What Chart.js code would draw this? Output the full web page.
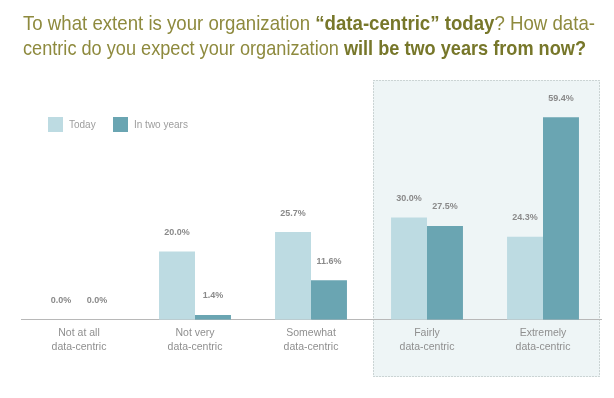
<!DOCTYPE html>
<html>
<head>
<meta charset="utf-8">
<script src="https://cdn.jsdelivr.net/npm/chart.js@4/dist/chart.umd.min.js"></script>
<style>
  html, body { margin: 0; padding: 0; background: #fff; }
  #wrap { position: relative; width: 614px; height: 398px; overflow: hidden; }
  #title {
    position: absolute; left: 23px; top: 10px;
    font-family: "Liberation Sans", Arial, sans-serif;
    font-size: 21px; line-height: 25px; color: #8e8a3e;
  }
  #title div { white-space: nowrap; transform-origin: 0 0; width: max-content; }
  #title b { color: #77772a; }
  canvas { position: absolute; left: 0; top: 0; }
</style>
</head>
<body>
<div id="wrap">
  <canvas id="chart" width="614" height="398"></canvas>
  <div id="title">
    <div data-w="572">To what extent is your organization <b>“data-centric” today</b>? How data-</div>
    <div data-w="563">centric do you expect your organization <b>will be two years from now?</b></div>
  </div>
</div>
<script>
// Data
const categories = [
    ['Not at all', 'data-centric'],
    ['Not very', 'data-centric'],
    ['Somewhat', 'data-centric'],
    ['Fairly', 'data-centric'],
    ['Extremely', 'data-centric']
];
const seriesNames = ['Today', 'In two years'];
const todayValues = [0.0, 20.0, 25.7, 30.0, 24.3];
const twoYearValues = [0.0, 1.4, 11.6, 27.5, 59.4];
const seriesColors = ['#bddbe2', '#6aa5b2'];
const labelFont = '"Liberation Sans", Arial, sans-serif';

// squeeze the title lines to the condensed width of the original
document.querySelectorAll('#title div').forEach(line => {
    const target = parseFloat(line.dataset.w);
    const w = line.getBoundingClientRect().width;
    line.style.transform = 'scaleX(' + (target / w) + ')';
});

// Shaded box behind the last two categories
const highlightBox = {
    id: 'highlightBox',
    beforeDraw(chart) {
        const { ctx, chartArea, scales } = chart;
        const left = scales.x.getPixelForValue(3) - 54;
        const right = scales.x.getPixelForValue(4) + 57;
        const top = chartArea.top - 1;
        const bottom = 377;
        ctx.save();
        ctx.fillStyle = '#eef5f6';
        ctx.fillRect(left, top, right - left, bottom - top);
        ctx.strokeStyle = '#a9b2b2';
        ctx.lineWidth = 1;
        ctx.setLineDash([1, 2]);
        ctx.strokeRect(left + 0.5, top + 0.5, right - left - 1, bottom - top - 1);
        ctx.restore();
    }
};

// Percent labels above bars
const valueLabels = {
    id: 'valueLabels',
    afterDatasetsDraw(chart) {
        const ctx = chart.ctx;
        ctx.save();
        ctx.font = 'bold 9px ' + labelFont;
        ctx.fillStyle = '#8a8a8a';
        ctx.textAlign = 'center';
        ctx.textBaseline = 'middle';
        chart.data.datasets.forEach((ds, i) => {
            chart.getDatasetMeta(i).data.forEach((bar, j) => {
                ctx.fillText(ds.data[j].toFixed(1) + '%', bar.x, bar.y - 19);
            });
        });
        ctx.restore();
    }
};

// Legend drawn in the top-left of the plot
const customLegend = {
    id: 'customLegend',
    afterDraw(chart) {
        const ctx = chart.ctx;
        const positions = [48, 113];
        ctx.save();
        ctx.font = '10px ' + labelFont;
        ctx.textBaseline = 'middle';
        chart.data.datasets.forEach((ds, i) => {
            ctx.fillStyle = ds.backgroundColor;
            ctx.fillRect(positions[i], 117, 15, 15);
            ctx.fillStyle = '#9d9d9d';
            ctx.fillText(ds.label, positions[i] + 21, 125);
        });
        ctx.restore();
    }
};

const ctx = document.getElementById('chart').getContext('2d');
new Chart(ctx, {
    type: 'bar',
    data: {
        labels: categories,
        datasets: [
            { label: seriesNames[0], data: todayValues, backgroundColor: seriesColors[0] },
            { label: seriesNames[1], data: twoYearValues, backgroundColor: seriesColors[1] }
        ]
    },
    options: {
        responsive: false,
        animation: false,
        layout: { padding: { top: 81, left: 21, right: 13, bottom: 37 } },
        datasets: {
            bar: { categoryPercentage: 0.62, barPercentage: 1.0 }
        },
        plugins: {
            legend: { display: false },
            tooltip: { enabled: false }
        },
        scales: {
            x: {
                grid: { display: false, drawTicks: false },
                border: { color: '#b8b8b8', width: 1 },
                ticks: {
                    color: '#8f8f8f',
                    padding: 7,
                    font: { family: labelFont, size: 10.5, lineHeight: 1.3 }
                }
            },
            y: {
                display: false,
                min: 0,
                max: 70
            }
        }
    },
    plugins: [highlightBox, valueLabels, customLegend]
});
</script>
</body>
</html>
